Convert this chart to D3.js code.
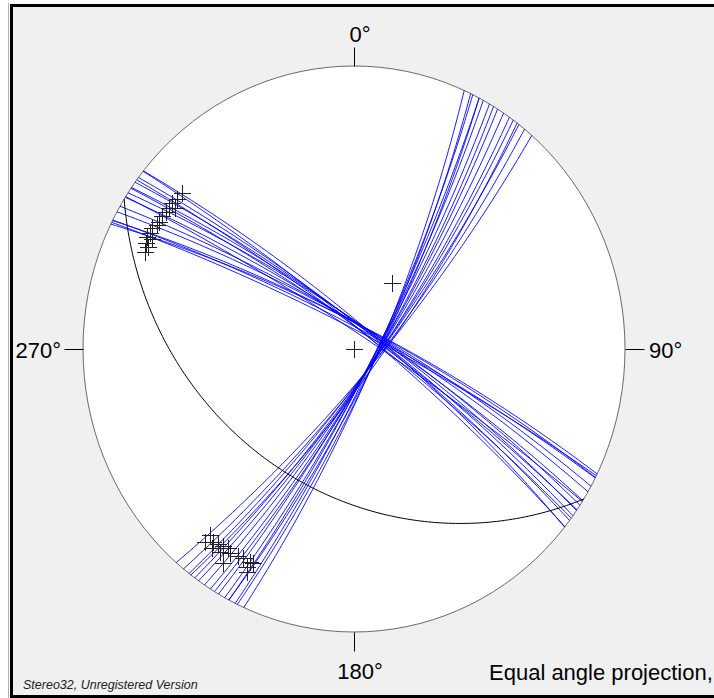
<!DOCTYPE html>
<html><head><meta charset="utf-8">
<script src="https://cdn.jsdelivr.net/npm/d3@7/dist/d3.min.js"></script>
<style>html,body{margin:0;padding:0;background:#fff;overflow:hidden}</style>
</head><body>
<svg id="c" width="714" height="698"></svg>
<script>
// ---- data ----
const azLabels = ["0°", "90°", "180°", "270°"];
const azValues = [0, 90, 180, 270];

// Set A planes (dip direction / dip)
const setA_dipDir = [131, 129, 127.5, 127, 126, 125, 123.5, 122, 121, 120, 118.5, 117.5, 117.5, 116, 115.5, 114];
const setA_dip    = [80.1, 80.1, 80.5, 79.2, 80.4, 80.4, 80.7, 80.7, 80.7, 81.3, 81.2, 81.4, 80.1, 81.0, 80.1, 80.3];

// Set B planes (dip direction / dip)
const setB_dipDir = [39, 38.9, 37.3, 36.1, 34.8, 33.5, 36.7, 34.6, 32.4, 30.3, 29, 27, 32.6, 26.2, 27.1, 26.6];
const setB_dip    = [80.4, 82.4, 81.2, 80.9, 80.5, 80.2, 82.5, 82.1, 81, 80.5, 80.3, 80.3, 83.8, 80.2, 81.8, 82.8];

// Black reference plane
const refPlane_dipDir = [212];
const refPlane_dip = [36.5];

// Extra points (trend / plunge)
const extra_trend = [0, 31];
const extra_plunge = [90, 59.6];

const footerLeft = "Stereo32, Unregistered Version";
const footerRight = "Equal angle projection,";

// ---- scales ----
const svg = d3.select("#c");
const x = d3.scaleLinear().domain([-1, 1]).range([83, 625]);
const y = d3.scaleLinear().domain([-1, 1]).range([632, 66]);
const rad = Math.PI / 180;

function proj(trend, plunge) {
  const r = Math.tan((90 - plunge) / 2 * rad);
  return [x(r * Math.sin(trend * rad)), y(r * Math.cos(trend * rad))];
}
function greatCircle(dd, dip) {
  const dv = [Math.cos(dip * rad) * Math.cos(dd * rad), Math.cos(dip * rad) * Math.sin(dd * rad), Math.sin(dip * rad)];
  const sv = [Math.cos((dd - 90) * rad), Math.sin((dd - 90) * rad), 0];
  const pts = [];
  for (let t = 0; t <= 180; t += 1) {
    const c = Math.cos(t * rad), s = Math.sin(t * rad);
    const v = [sv[0] * c + dv[0] * s, sv[1] * c + dv[1] * s, sv[2] * c + dv[2] * s];
    const tr = Math.atan2(v[1], v[0]) / rad;
    const pl = Math.asin(Math.max(-1, Math.min(1, v[2]))) / rad;
    pts.push(proj(tr, pl));
  }
  return pts;
}
const line = d3.line();

// ---- frame ----
svg.append("rect").attr("x", 0).attr("y", 0).attr("width", 714).attr("height", 698).attr("fill", "#fff");
svg.append("line").attr("x1", 8.5).attr("x2", 8.5).attr("y1", 3).attr("y2", 698).attr("stroke", "#b0b0b0");
svg.append("rect").attr("x", 11.5).attr("y", 5.5).attr("width", 740).attr("height", 691)
  .attr("fill", "#f0f0f0").attr("stroke", "#000").attr("stroke-width", 3);

// primitive
const cx = x(0), cy = y(0);
svg.append("ellipse").attr("cx", cx).attr("cy", cy)
  .attr("rx", x(1) - x(0)).attr("ry", y(-1) - y(0))
  .attr("fill", "#fff").attr("stroke", "#6a6a6a").attr("stroke-width", 1);

// ticks + labels
const tickLen = 19;
azValues.forEach((a, i) => {
  const dx = Math.sin(a * rad), dy = Math.cos(a * rad);
  const px = x(dx), py = y(dy);
  const x2 = px + dx * tickLen, y2 = py - dy * tickLen;
  svg.append("line").attr("x1", Math.round(px) + 0.5).attr("y1", Math.round(py) + 0.5)
    .attr("x2", Math.round(x2) + 0.5).attr("y2", Math.round(y2) + 0.5)
    .attr("stroke", "#000").attr("stroke-width", 1);
  let tx, ty, anchor;
  if (a === 0) { tx = px + 6; ty = y2 - 5; anchor = "middle"; }
  else if (a === 180) { tx = px + 6; ty = y2 + 28; anchor = "middle"; }
  else if (a === 90) { tx = x2 + 5; ty = py + 9; anchor = "start"; }
  else { tx = x2 - 3; ty = py + 9; anchor = "end"; }
  svg.append("text").attr("x", tx).attr("y", ty).attr("text-anchor", anchor)
    .attr("font-family", "Liberation Sans, Arial, sans-serif").attr("font-size", 22)
    .attr("fill", "#000").text(azLabels[i]);
});

// great circles
const gc = svg.append("g").attr("fill", "none").attr("stroke", "#0000ff").attr("stroke-width", 0.9);
setA_dipDir.forEach((d, i) => gc.append("path").attr("d", line(greatCircle(d, setA_dip[i]))));
setB_dipDir.forEach((d, i) => gc.append("path").attr("d", line(greatCircle(d, setB_dip[i]))));

svg.append("g").attr("fill", "none").attr("stroke", "#000").attr("stroke-width", 1)
  .selectAll("path").data(refPlane_dipDir).join("path")
  .attr("d", (d, i) => line(greatCircle(d, refPlane_dip[i])));

// poles
const arm = 8.5;
function cross(g, p) {
  const px = Math.round(p[0]) + 0.5, py = Math.round(p[1]) + 0.5;
  g.append("line").attr("x1", px - arm).attr("x2", px + arm).attr("y1", py).attr("y2", py);
  g.append("line").attr("x1", px).attr("x2", px).attr("y1", py - arm).attr("y2", py + arm);
}
const pg = svg.append("g").attr("stroke", "#222").attr("stroke-width", 1).attr("shape-rendering", "crispEdges");
setA_dipDir.forEach((d, i) => cross(pg, proj(d + 180, 90 - setA_dip[i])));
setB_dipDir.forEach((d, i) => cross(pg, proj(d + 180, 90 - setB_dip[i])));
extra_trend.forEach((t, i) => cross(pg, proj(t, extra_plunge[i])));

// footer
svg.append("text").attr("x", 23).attr("y", 689)
  .attr("font-family", "Liberation Sans, Arial, sans-serif").attr("font-size", 12.5)
  .attr("font-style", "italic").attr("fill", "#222").text(footerLeft);
svg.append("text").attr("x", 489).attr("y", 680)
  .attr("font-family", "Liberation Sans, Arial, sans-serif").attr("font-size", 22)
  .attr("fill", "#000").text(footerRight);
</script>
</body></html>
